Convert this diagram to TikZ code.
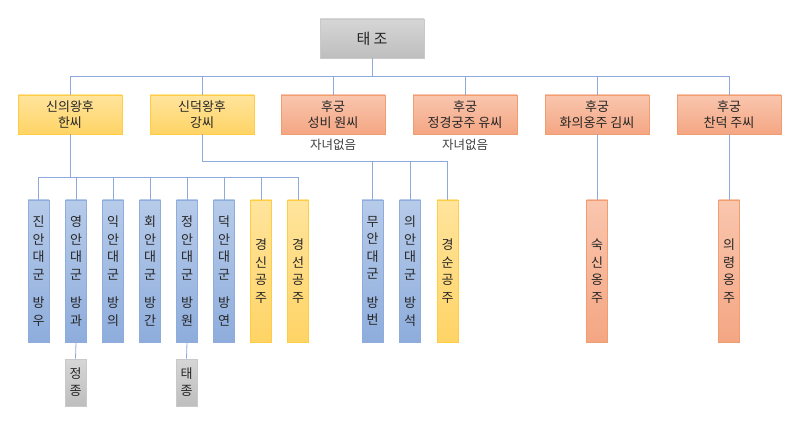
\documentclass[tikz,border=0pt]{standalone}
\usepackage{fontspec}
\setmainfont{Noto Sans CJK KR}
\definecolor{lineblue}{HTML}{8EA9DB}
\definecolor{graytop}{HTML}{D6D6D6}
\definecolor{graybot}{HTML}{BEBEBE}
\definecolor{grayline}{HTML}{C9C9C9}
\definecolor{yeltop}{HTML}{FFE49C}
\definecolor{yelbot}{HTML}{FFD466}
\definecolor{yelline}{HTML}{FFCC44}
\definecolor{ortop}{HTML}{F9C6AE}
\definecolor{orbot}{HTML}{F4A683}
\definecolor{orline}{HTML}{F29D70}
\definecolor{bltop}{HTML}{B7CBEA}
\definecolor{blbot}{HTML}{8EADDC}
\definecolor{blline}{HTML}{8EADDC}
\tikzset{
  box/.style={draw, inner sep=0pt, align=center, text=black!85, line width=0.8pt},
  kingbox/.style={box, top color=graytop, bottom color=graybot, draw=grayline,
    minimum width=104pt, minimum height=39pt, font=\fontsize{15}{17}\selectfont},
  queenbox/.style={box, top color=yeltop, bottom color=yelbot, draw=yelline,
    minimum width=104pt, minimum height=39pt, font=\fontsize{13}{16.5}\selectfont},
  concbox/.style={box, top color=ortop, bottom color=orbot, draw=orline,
    minimum width=104pt, minimum height=39pt, font=\fontsize{13}{16.5}\selectfont},
  sonbox/.style={box, top color=bltop, bottom color=blbot, draw=blline,
    minimum width=21pt, minimum height=142pt, font=\fontsize{13}{17.5}\selectfont},
  daughterbox/.style={box, top color=yeltop, bottom color=yelbot, draw=yelline,
    minimum width=21pt, minimum height=142pt, font=\fontsize{13}{17.5}\selectfont},
  odaughterbox/.style={box, top color=ortop, bottom color=orbot, draw=orline,
    minimum width=21pt, minimum height=142pt, font=\fontsize{13}{17.5}\selectfont},
  heirbox/.style={box, top color=graytop, bottom color=graybot, draw=grayline,
    minimum width=21pt, minimum height=47pt, font=\fontsize{13}{17}\selectfont},
  conn/.style={draw=lineblue, line width=0.8pt},
  note/.style={text=black!75, font=\fontsize{12.5}{14}\selectfont}
}
\begin{document}
\begin{tikzpicture}[x=1pt, y=-1pt]
  \useasboundingbox (0,0) rectangle (800,427);
  % King
  \node[kingbox] (taejo) at (372,38.5) {태 조};
  % Queens and concubines
  \node[queenbox] (sinui) at (70,114.5) {신의왕후\\한씨};
  \node[queenbox] (sindeok) at (202,114.5) {신덕왕후\\강씨};
  \node[concbox] (seongbi) at (333,114.5) {후궁\\성비 원씨};
  \node[concbox] (jeonggyeong) at (465,114.5) {후궁\\정경궁주 유씨};
  \node[concbox] (hwaui) at (597,114.5) {후궁\\화의옹주 김씨};
  \node[concbox] (chandeok) at (729,114.5) {후궁\\찬덕 주씨};
  \node[note] (nochild1) at (333,145) {자녀없음};
  \node[note] (nochild2) at (465,145) {자녀없음};
  \foreach \w in {sinui, sindeok, seongbi, jeonggyeong, hwaui, chandeok} {
    \draw[conn] (taejo.south) -- ++(0,18) -| (\w.north);
  }
  % Children of Sinui
  \foreach \n/\x/\t in {jinan/38.5/{진\\안\\대\\군\\[11pt]방\\우},
      yeongan/76/{영\\안\\대\\군\\[11pt]방\\과},
      ikan/113/{익\\안\\대\\군\\[11pt]방\\의},
      hoean/150/{회\\안\\대\\군\\[11pt]방\\간},
      jeongan/187/{정\\안\\대\\군\\[11pt]방\\원},
      deokan/224/{덕\\안\\대\\군\\[11pt]방\\연}} {
    \node[sonbox] (\n) at (\x,271) {\t};
    \draw[conn] (sinui.south) -- ++(0,43) -| (\n.north);
  }
  \node[daughterbox] (gyeongsin) at (261,271) {경\\신\\공\\주};
  \node[daughterbox] (gyeongseon) at (298,271) {경\\선\\공\\주};
  \draw[conn] (sinui.south) -- ++(0,43) -| (gyeongsin.north);
  \draw[conn] (sinui.south) -- ++(0,43) -| (gyeongseon.north);
  % Children of Sindeok
  \node[sonbox] (muan) at (372.5,271) {무\\안\\대\\군\\[11pt]방\\번};
  \node[sonbox] (uian) at (410,271) {의\\안\\대\\군\\[11pt]방\\석};
  \node[daughterbox] (gyeongsun) at (447.5,271) {경\\순\\공\\주};
  \foreach \n in {muan, uian, gyeongsun} {
    \draw[conn] (sindeok.south) -- ++(0,27) -| (\n.north);
  }
  % Daughters of concubines
  \node[odaughterbox] (suksin) at (597,271) {숙\\신\\옹\\주};
  \node[odaughterbox] (uiryeong) at (729,271) {의\\령\\옹\\주};
  \draw[conn] (hwaui.south) -- (suksin.north);
  \draw[conn] (chandeok.south) -- (uiryeong.north);
  % Later kings
  \node[heirbox] (jeongjong) at (75.5,382.5) {정\\종};
  \node[heirbox] (taejong) at (186.5,382.5) {태\\종};
  \draw[conn] (yeongan.south) -- (jeongjong.north);
  \draw[conn] (jeongan.south) -- (taejong.north);
\end{tikzpicture}
\end{document}
